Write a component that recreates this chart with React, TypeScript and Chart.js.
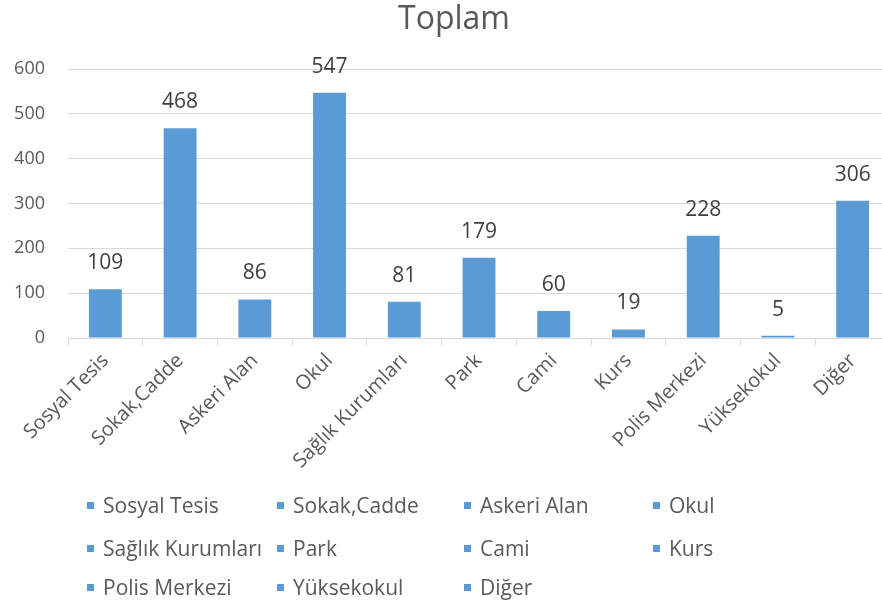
import React, { useEffect, useRef } from "react";
import { Chart, registerables } from "chart.js";

Chart.register(...registerables);

const categories = [
  "Sosyal Tesis",
  "Sokak,Cadde",
  "Askeri Alan",
  "Okul",
  "Sağlık Kurumları",
  "Park",
  "Cami",
  "Kurs",
  "Polis Merkezi",
  "Yüksekokul",
  "Diğer",
];
const totals = [109, 468, 86, 547, 81, 179, 60, 19, 228, 5, 306];
const yTicks = [0, 100, 200, 300, 400, 500, 600];
const chartTitle = "Toplam";

const BAR = "#5B9BD5";
const TEXT = "#595959";
const GRID = "#D9D9D9";
const FONT = "'Open Sans', 'Noto Sans', sans-serif";

const valueLabels = {
  id: "valueLabels",
  afterDatasetsDraw(chart: any) {
    const ctx = chart.ctx;
    const meta = chart.getDatasetMeta(0);
    ctx.save();
    ctx.fillStyle = "#404040";
    ctx.font = `21px ${FONT}`;
    ctx.textAlign = "center";
    ctx.textBaseline = "middle";
    meta.data.forEach((bar: any, i: number) => {
      ctx.fillText(String(totals[i]), bar.x, bar.y - 26);
    });
    ctx.restore();
  },
};

const titleDraw = {
  id: "titleDraw",
  afterDraw(chart: any) {
    const ctx = chart.ctx;
    ctx.save();
    ctx.fillStyle = TEXT;
    ctx.font = `32px ${FONT}`;
    ctx.textAlign = "center";
    ctx.textBaseline = "middle";
    ctx.fillText(chartTitle, 454, 20);
    ctx.restore();
  },
};

const legendCols = [87, 277, 464, 653];
const legendRows = [505, 548, 587];

export default function App() {
  const ref = useRef<HTMLCanvasElement>(null);
  useEffect(() => {
    document.body.style.margin = "0";
    const chart = new Chart(ref.current as HTMLCanvasElement, {
      type: "bar",
      data: {
        labels: categories,
        datasets: [
          {
            label: chartTitle,
            data: totals,
            backgroundColor: BAR,
            borderWidth: 0,
            barPercentage: 0.44,
            categoryPercentage: 1,
          },
        ],
      },
      options: {
        animation: false,
        responsive: false,
        devicePixelRatio: 1,
        layout: { padding: { left: 0, right: 10, top: 69, bottom: 0 } },
        plugins: {
          legend: { display: false },
          tooltip: { enabled: false },
          title: { display: false },
        },
        scales: {
          x: {
            grid: {
              drawOnChartArea: false,
              drawTicks: true,
              tickLength: 7,
              color: GRID,
            },
            border: { display: true, color: GRID, width: 1 },
            ticks: {
              autoSkip: false,
              minRotation: 45,
              maxRotation: 45,
              color: TEXT,
              font: { family: FONT, size: 20 },
              padding: 4,
            },
            afterFit(scale: any) {
              scale.height = 262;
            },
          },
          y: {
            min: 0,
            max: 600,
            afterBuildTicks(scale: any) {
              scale.ticks = yTicks.map((v) => ({ value: v }));
            },
            grid: { color: GRID, drawTicks: false },
            border: { display: false },
            ticks: {
              color: TEXT,
              font: { family: FONT, size: 18 },
              padding: 23,
            },
            afterFit(scale: any) {
              scale.width = 68;
            },
          },
        },
      },
      plugins: [valueLabels, titleDraw],
    });
    return () => chart.destroy();
  }, []);

  return (
    <div
      style={{
        position: "fixed",
        left: 0,
        top: 0,
        width: 900,
        height: 600,
        overflow: "hidden",
        background: "#fff",
      }}
    >
      <canvas ref={ref} width={900} height={600} style={{ display: "block" }} />
      {categories.map((c, i) => (
        <div
          key={c}
          style={{
            position: "absolute",
            left: legendCols[i % 4],
            top: legendRows[Math.floor(i / 4)] - 15,
            height: 30,
            display: "flex",
            alignItems: "center",
            fontFamily: FONT,
            fontSize: 21,
            color: TEXT,
            whiteSpace: "nowrap",
          }}
        >
          <span
            style={{
              display: "inline-block",
              width: 7,
              height: 7,
              background: BAR,
              marginRight: 9,
            }}
          />
          {c}
        </div>
      ))}
    </div>
  );
}
